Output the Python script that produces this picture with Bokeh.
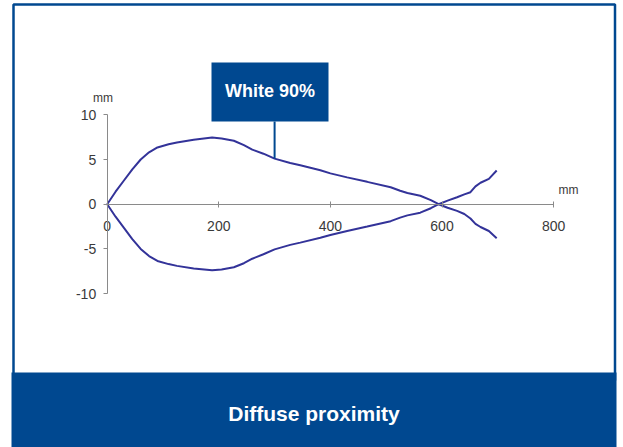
from bokeh.plotting import figure
from bokeh.models import Range1d, FixedTicker, Label, BoxAnnotation
from bokeh.embed import file_html
from bokeh.resources import INLINE

# ---- data ----
distance_mm = [0, 15, 30, 45, 60, 75, 90, 110, 125, 155, 188, 205, 227, 245, 260,
               280, 300, 328, 346, 382, 400, 430, 466, 508, 525, 538, 561, 580,
               594, 610, 627, 640, 651, 660, 669, 684, 698]
upper_mm = [0, 1.4, 2.65, 3.9, 5.0, 5.8, 6.35, 6.7, 6.9, 7.2, 7.45, 7.35, 7.1, 6.6,
            6.1, 5.65, 5.1, 4.6, 4.35, 3.8, 3.45, 3.0, 2.5, 1.9, 1.5, 1.25, 0.95,
            0.45, 0.0, -0.4, -0.75, -1.1, -1.6, -2.2, -2.55, -3.0, -3.8]
lower_mm = [0, -1.4, -2.65, -3.9, -5.0, -5.8, -6.35, -6.7, -6.9, -7.2, -7.4, -7.3,
            -7.05, -6.6, -6.1, -5.6, -5.05, -4.55, -4.3, -3.75, -3.45, -3.0, -2.5,
            -1.9, -1.5, -1.25, -0.95, -0.45, 0.0, 0.4, 0.78, 1.1, 1.34, 2.0, 2.4,
            2.84, 3.77]
x_ticks = [0, 200, 400, 600, 800]
y_ticks = [-10, -5, 0, 5, 10]
y_tick_labels = {-10: "-10", -5: "-5", 0: "0", 5: "5", 10: "10"}
series_name = "White 90%"
title_text = "Diffuse proximity"
unit_text = "mm"
callout_at = 300

# ---- layout constants (page pixels) ----
BLUE = "#004890"
CURVE = "#333399"
AXIS = "#8a8a8a"
TICKTXT = "#3a3a3a"
FONT = "Liberation Sans"
OFF = 0
W, H = 623, 447
ORIGIN_PX, ORIGIN_PY = 106.7, 203.7
SX, SY = 0.558, 8.94

def px2x(px):
    return (px - ORIGIN_PX) / SX

def py2y(py):
    return (ORIGIN_PY - py) / SY

p = figure(width=W, height=H,
           x_range=Range1d(px2x(OFF), px2x(OFF + W)),
           y_range=Range1d(py2y(OFF + H), py2y(OFF)),
           output_backend="svg", toolbar_location=None,
           min_border=0, outline_line_color=None,
           background_fill_color="white", border_fill_color="white")
p.grid.visible = False

xa = p.xaxis[0]
xa.fixed_location = 0
xa.bounds = (0, 800)
xa.ticker = FixedTicker(ticks=x_ticks)
xa.major_tick_in = 3
xa.major_tick_out = 3
xa.minor_tick_line_color = None
xa.axis_line_color = AXIS
xa.major_tick_line_color = AXIS
xa.major_label_standoff = 14
xa.major_label_text_font = FONT
xa.major_label_text_font_size = "14px"
xa.major_label_text_color = TICKTXT

ya = p.yaxis[0]
ya.fixed_location = 0
ya.bounds = (-10, 10)
ya.ticker = FixedTicker(ticks=y_ticks)
ya.major_label_overrides = y_tick_labels
ya.major_tick_in = 0
ya.major_tick_out = 4
ya.minor_tick_line_color = None
ya.axis_line_color = AXIS
ya.major_tick_line_color = AXIS
ya.major_label_standoff = 7
ya.major_label_text_font = FONT
ya.major_label_text_font_size = "14px"
ya.major_label_text_color = TICKTXT

p.line(distance_mm, upper_mm, line_color=CURVE, line_width=2)
p.line(distance_mm, lower_mm, line_color=CURVE, line_width=2)

# callout leader line
cy = upper_mm[distance_mm.index(callout_at)]
p.segment(x0=[callout_at], y0=[cy], x1=[callout_at], y1=[py2y(121)],
          line_color=BLUE, line_width=2)

# frame
p.add_layout(BoxAnnotation(left=px2x(13), right=px2x(614.5), top=py2y(4), bottom=py2y(380),
                           fill_alpha=0, line_color=BLUE, line_alpha=1, line_width=2.5))
# bottom title band
p.add_layout(BoxAnnotation(left=px2x(11), right=px2x(616), top=py2y(372), bottom=py2y(470),
                           fill_color=BLUE, fill_alpha=1, line_color=None))
# callout box
p.add_layout(BoxAnnotation(left=px2x(211), right=px2x(328), top=py2y(62), bottom=py2y(121),
                           fill_color=BLUE, fill_alpha=1, line_color=None))

p.add_layout(Label(x=px2x(269.5), y=py2y(90), text=series_name, text_color="white",
                   text_font=FONT, text_font_style="bold", text_font_size="18px",
                   text_align="center", text_baseline="middle"))
p.add_layout(Label(x=px2x(313.5), y=py2y(413), text=title_text, text_color="white",
                   text_font=FONT, text_font_style="bold", text_font_size="21px",
                   text_align="center", text_baseline="middle"))
p.add_layout(Label(x=px2x(102.5), y=py2y(97), text=unit_text, text_color=TICKTXT,
                   text_font=FONT, text_font_size="12px",
                   text_align="center", text_baseline="middle"))
p.add_layout(Label(x=px2x(568), y=py2y(189), text=unit_text, text_color=TICKTXT,
                   text_font=FONT, text_font_size="12px",
                   text_align="center", text_baseline="middle"))

open("out.html", "w").write(file_html(p, INLINE))
